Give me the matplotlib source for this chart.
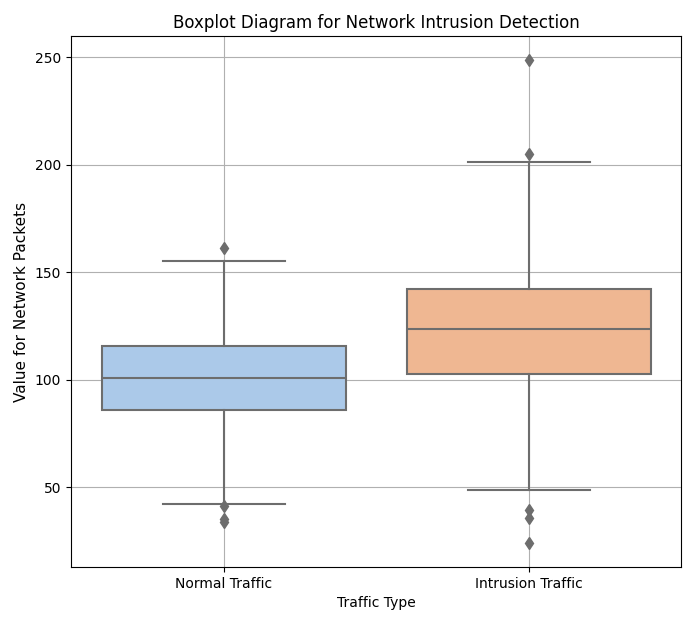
import matplotlib
matplotlib.use("Agg")
import matplotlib.pyplot as plt

categories = ["Normal Traffic", "Intrusion Traffic"]
whislo = [42, 48.5]
q1 = [86, 102.5]
med = [100.5, 123.5]
q3 = [115.5, 142]
whishi = [155, 201]
fliers = [[161, 41, 35, 33.5], [205, 248.5, 39.5, 35.5, 24]]
# seaborn "pastel", desaturated the way the old boxplot did
colors = ["#abc9e9", "#efb792"]

stats = []
for i, name in enumerate(categories):
    stats.append(dict(label=name, whislo=whislo[i], q1=q1[i], med=med[i],
                      q3=q3[i], whishi=whishi[i], fliers=fliers[i]))

fig = plt.figure(figsize=(6.86, 6.18), dpi=100)
ax = fig.add_axes([71 / 686, 1 - 567 / 618, 610 / 686, 531 / 618])

line = "#6d6d6d"
bp = ax.bxp(stats, positions=[0, 1], widths=0.8, patch_artist=True,
            boxprops=dict(edgecolor=line, linewidth=1.5),
            medianprops=dict(color=line, linewidth=1.5),
            whiskerprops=dict(color=line, linewidth=1.5),
            capprops=dict(color=line, linewidth=1.5),
            flierprops=dict(marker="d", markerfacecolor=line,
                            markeredgecolor=line, markersize=6))
for patch, c in zip(bp["boxes"], colors):
    patch.set_facecolor(c)

ax.set_xlim(-0.5, 1.5)
ax.set_ylim(12.8, 259.8)
ax.set_yticks([50, 100, 150, 200, 250])
ax.grid(True)
ax.set_axisbelow(True)
ax.set_title("Boxplot Diagram for Network Intrusion Detection", fontsize=12)
ax.set_xlabel("Traffic Type")
ax.set_ylabel("Value for Network Packets", fontsize=11)

fig.savefig("out.png", dpi=100)
